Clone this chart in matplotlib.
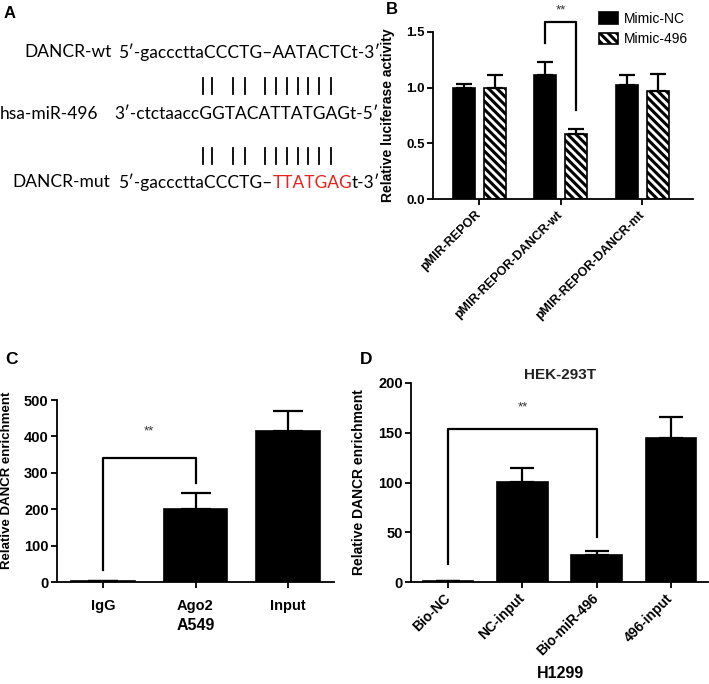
import matplotlib
matplotlib.use('Agg')
import matplotlib.pyplot as plt
from matplotlib.lines import Line2D

# B: luciferase reporter
b_groups = ['pMIR-REPOR', 'pMIR-REPOR-DANCR-wt', 'pMIR-REPOR-DANCR-mt']
b_series = ['Mimic-NC', 'Mimic-496']
b_nc = [1.0, 1.11, 1.025]
b_nc_err = [0.035, 0.125, 0.09]
b_496 = [1.0, 0.585, 0.97]
b_496_err = [0.115, 0.045, 0.15]
b_yticks = [0.0, 0.5, 1.0, 1.5]

# C: RIP in A549
c_groups = ['IgG', 'Ago2', 'Input']
c_vals = [2, 200, 415]
c_err = [0, 45, 55]
c_yticks = [0, 100, 200, 300, 400, 500]

# D: pull-down in H1299
d_groups = ['Bio-NC', 'NC-input', 'Bio-miR-496', '496-input']
d_vals = [1.5, 101, 27.5, 144.5]
d_err = [0, 14, 3.5, 21]
d_yticks = [0, 50, 100, 150, 200]

# A: sequence alignment
seq_labels = ['DANCR-wt', 'hsa-miR-496', 'DANCR-mut']
seq_wt = '5\u2032-gacccttaCCCTG\u2013AATACTCt-3\u2032'
seq_mir = '3\u2032-ctctaaccGGTACATTATGAGt-5\u2032'
seq_mut = ['5\u2032-gacccttaCCCTG\u2013', 'TTATGAG', 't-3\u2032']

W, H = 709, 684
plt.rcParams['font.family'] = ['Liberation Sans', 'DejaVu Sans']
plt.rcParams['hatch.linewidth'] = 2.2
fig = plt.figure(figsize=(W / 100, H / 100), dpi=100)


def fx(x):
    return x / W


def fy(y):
    return 1 - y / H


def box(l, t, r, b):
    return [fx(l), fy(b), (r - l) / W, (b - t) / H]


def style(ax, yticks, fmt, size):
    for s in ['top', 'right']:
        ax.spines[s].set_visible(False)
    for s in ['left', 'bottom']:
        ax.spines[s].set_linewidth(1.3)
    ax.tick_params(width=1.3, length=4, pad=2)
    ax.set_yticks(yticks, [fmt % v for v in yticks], fontweight='bold', fontsize=size)
    ax.set_ylim(yticks[0], yticks[-1])


def bracket(ax, x0, x1, y0, ytop, y1, ystar):
    ax.plot([x0, x0, x1, x1], [y0, ytop, ytop, y1], color='black', lw=1.6, clip_on=False)
    ax.text((x0 + x1) / 2, ystar, '**', ha='center', va='center', fontsize=9.5, color='#333333')


ekw = dict(ecolor='black', elinewidth=1.6, capthick=1.6)

# ---------- A ----------
afont = dict(family=['Lato', 'DejaVu Sans'], fontsize=12.5, va='center')
ax_a = fig.add_axes([0, 0.6, 0.5, 0.4])
ax_a.axis('off')
fig.text(fx(10), fy(13), 'A', fontsize=12, fontweight='bold', ha='center', va='center')
fig.text(fx(24), fy(52), seq_labels[0], **afont)
fig.text(fx(118), fy(52), seq_wt, **afont)
fig.text(fx(0), fy(114), seq_labels[1], **afont)
fig.text(fx(114), fy(114), seq_mir, **afont)
fig.text(fx(12), fy(182), seq_labels[2], **afont)
t = fig.text(fx(118), fy(182), seq_mut[0], **afont)
afont2 = dict(afont)
afont2['va'] = 'bottom'
t = ax_a.annotate(seq_mut[1], xy=(1, 0), xycoords=t, color='#e8221d', **afont2)
ax_a.annotate(seq_mut[2], xy=(1, 0), xycoords=t, **afont2)
pair_x = [203, 212, 233, 245, 265, 276, 287, 298, 308, 319, 331]
for yc in [86, 156]:
    for x in pair_x:
        fig.add_artist(Line2D([fx(x), fx(x)], [fy(yc - 8), fy(yc + 8)], color='black', lw=1.3))

# ---------- B ----------
ax_b = fig.add_axes(box(433, 32, 693, 199))
xb = range(len(b_groups))
off, bw = 0.19, 0.27
ax_b.bar([i - off for i in xb], b_nc, bw, color='black', edgecolor='black', lw=1.2,
         yerr=[[0] * 3, b_nc_err], capsize=6, error_kw=ekw, label=b_series[0])
ax_b.bar([i + off for i in xb], b_496, bw, color='white', edgecolor='black', lw=1.2,
         hatch='\\\\\\\\', yerr=[[0] * 3, b_496_err], capsize=6, error_kw=ekw, label=b_series[1])
style(ax_b, b_yticks, '%.1f', 9.5)
ax_b.set_xlim(-0.57, 2.62)
ax_b.set_xticks(list(xb))
ax_b.set_xticklabels(b_groups, rotation=45, ha='right', va='center', rotation_mode='anchor',
                     fontsize=9, fontweight='bold')
ax_b.tick_params(axis='x', pad=6)
ax_b.set_ylabel('Relative luciferase activity', fontsize=10, fontweight='bold')
ax_b.yaxis.set_label_coords(-0.146, 0.5)
bracket(ax_b, 1 - off, 1 + off, 1.40, 1.59, 0.80, 1.69)
ax_b.legend(loc='upper left', bbox_to_anchor=(fx(599), fy(12)), bbox_transform=fig.transFigure,
            frameon=False, fontsize=10, borderpad=0, borderaxespad=0, handlelength=1.4,
            handleheight=0.9, handletextpad=0.4, labelspacing=0.45)
fig.text(fx(392), fy(10), 'B', fontsize=12, fontweight='bold', ha='center', va='center')

# ---------- C ----------
ax_c = fig.add_axes(box(57, 400, 334, 582))
xc = range(len(c_groups))
ax_c.bar(list(xc), c_vals, 0.69, color='black', edgecolor='black', lw=1.2,
         yerr=[[0] * 3, c_err], capsize=11, error_kw=ekw)
style(ax_c, c_yticks, '%d', 10.5)
ax_c.set_xlim(-0.5, 2.5)
ax_c.set_xticks(list(xc))
ax_c.set_xticklabels(c_groups, fontsize=10.5, fontweight='bold')
ax_c.tick_params(axis='x', pad=8)
ax_c.set_ylabel('Relative DANCR enrichment', fontsize=9.5, fontweight='bold')
ax_c.yaxis.set_label_coords(-0.16, 0.56)
ax_c.set_xlabel('A549', fontsize=11.5, fontweight='bold', labelpad=4)
bracket(ax_c, 0, 1, 34, 341, 273, 413)
fig.text(fx(11), fy(360), 'C', fontsize=12.5, fontweight='bold', ha='center', va='center')

# ---------- D ----------
ax_d = fig.add_axes(box(411, 383, 708, 582))
xd = range(len(d_groups))
ax_d.bar(list(xd), d_vals, 0.68, color='black', edgecolor='black', lw=1.2,
         yerr=[[0] * 4, d_err], capsize=8.5, error_kw=ekw)
style(ax_d, d_yticks, '%d', 10.5)
ax_d.set_xlim(-0.5, 3.5)
ax_d.set_xticks(list(xd))
ax_d.set_xticklabels(d_groups, rotation=45, ha='right', va='center', rotation_mode='anchor',
                     fontsize=10, fontweight='bold')
ax_d.tick_params(axis='x', pad=6)
ax_d.set_ylabel('Relative DANCR enrichment', fontsize=10, fontweight='bold')
ax_d.yaxis.set_label_coords(-0.15, 0.5)
bracket(ax_d, 0, 2, 18.5, 153.5, 45.5, 175)
fig.text(fx(560), fy(375), 'HEK-293T', fontsize=11, fontweight='bold', ha='center', va='center',
         color='#222222')
fig.text(fx(560), fy(674), 'H1299', fontsize=11.5, fontweight='bold', ha='center', va='center')
fig.text(fx(366), fy(360), 'D', fontsize=12.5, fontweight='bold', ha='center', va='center')

fig.savefig('out.png', dpi=100)
